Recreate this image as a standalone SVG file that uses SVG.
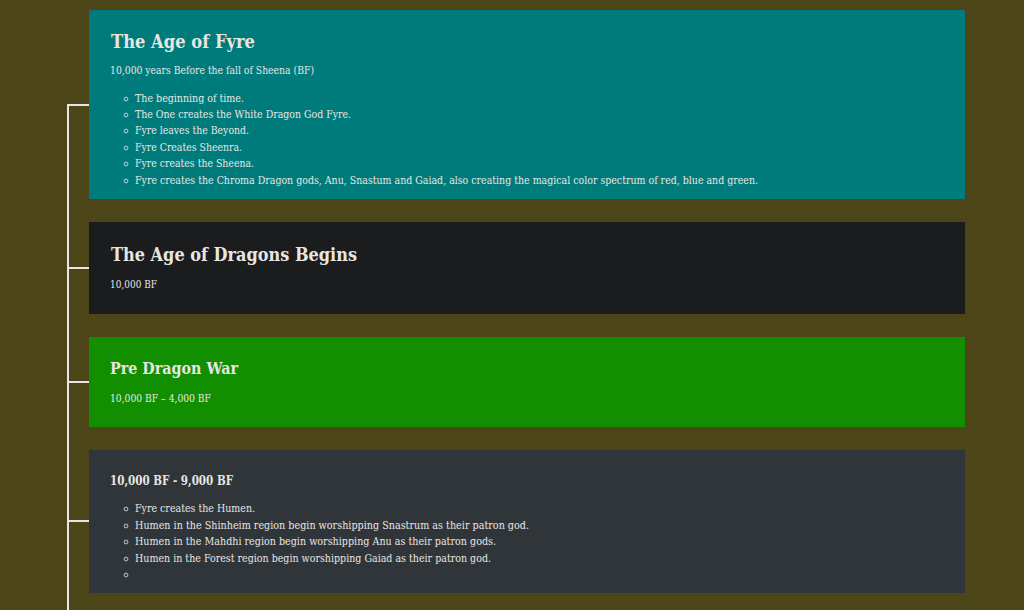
<svg xmlns="http://www.w3.org/2000/svg" width="1024" height="610" viewBox="0 0 1024 610">
<style>
text{font-family:"DejaVu Serif","Liberation Serif",serif;fill:#e8e6e3}
.h1{font-size:19px;font-weight:bold}
.h2{font-size:16px;font-weight:bold}
.h3{font-size:12px;font-weight:bold}
.p{font-size:11px}
.dot{fill:none;stroke:#e8e6e3;stroke-width:0.8}
.line{stroke:#e8e6e3;stroke-width:2;fill:none}
</style>
<defs>
<circle id="b" r="1.9" class="dot"/>
</defs>
<rect width="1024" height="610" fill="#4b4518"/>
<g id="connectors">
<path class="line" d="M68 104V610M67 105H89M67 268H89M67 382H89M67 521H89"/>
</g>
<g id="node1">
<rect x="89" y="10" width="876" height="189" fill="#007b7b"/>
<text class="h1" x="111" y="48" textLength="144" lengthAdjust="spacingAndGlyphs">The Age of Fyre</text>
<text class="p" x="110" y="74" textLength="204" lengthAdjust="spacingAndGlyphs">10,000 years Before the fall of Sheena (BF)</text>
<use href="#b" x="126" y="99"/><text class="p" x="135" y="102" textLength="109" lengthAdjust="spacingAndGlyphs">The beginning of time.</text>
<use href="#b" x="126" y="115"/><text class="p" x="135" y="118" textLength="216" lengthAdjust="spacingAndGlyphs">The One creates the White Dragon God Fyre.</text>
<use href="#b" x="126" y="131"/><text class="p" x="135" y="134" textLength="114" lengthAdjust="spacingAndGlyphs">Fyre leaves the Beyond.</text>
<use href="#b" x="126" y="148"/><text class="p" x="135" y="151" textLength="107" lengthAdjust="spacingAndGlyphs">Fyre Creates Sheenra.</text>
<use href="#b" x="126" y="164"/><text class="p" x="135" y="167" textLength="119" lengthAdjust="spacingAndGlyphs">Fyre creates the Sheena.</text>
<use href="#b" x="126" y="181"/><text class="p" x="135" y="184" textLength="623" lengthAdjust="spacingAndGlyphs">Fyre creates the Chroma Dragon gods, Anu, Snastum and Gaiad, also creating the magical color spectrum of red, blue and green.</text>
</g>
<g id="node2">
<rect x="89" y="222" width="876" height="92" fill="#1b1c1e"/>
<text class="h1" x="111" y="261" textLength="246" lengthAdjust="spacingAndGlyphs">The Age of Dragons Begins</text>
<text class="p" x="110" y="288" textLength="47" lengthAdjust="spacingAndGlyphs">10,000 BF</text>
</g>
<g id="node3">
<rect x="89" y="337" width="876" height="90" fill="#128f00"/>
<text class="h2" x="110" y="374" textLength="128" lengthAdjust="spacingAndGlyphs">Pre Dragon War</text>
<text class="p" x="110" y="402" textLength="101" lengthAdjust="spacingAndGlyphs">10,000 BF – 4,000 BF</text>
</g>
<g id="node4">
<rect x="89" y="450" width="876" height="143" fill="#30353a"/>
<text class="h3" x="110" y="485" textLength="123" lengthAdjust="spacingAndGlyphs">10,000 BF - 9,000 BF</text>
<use href="#b" x="126" y="509"/><text class="p" x="135" y="512" textLength="120" lengthAdjust="spacingAndGlyphs">Fyre creates the Humen.</text>
<use href="#b" x="126" y="526"/><text class="p" x="135" y="529" textLength="394" lengthAdjust="spacingAndGlyphs">Humen in the Shinheim region begin worshipping Snastrum as their patron god.</text>
<use href="#b" x="126" y="542"/><text class="p" x="135" y="545" textLength="361" lengthAdjust="spacingAndGlyphs">Humen in the Mahdhi region begin worshipping Anu as their patron gods.</text>
<use href="#b" x="126" y="559"/><text class="p" x="135" y="562" textLength="356" lengthAdjust="spacingAndGlyphs">Humen in the Forest region begin worshipping Gaiad as their patron god.</text>
<use href="#b" x="126" y="575"/>
</g>
</svg>
